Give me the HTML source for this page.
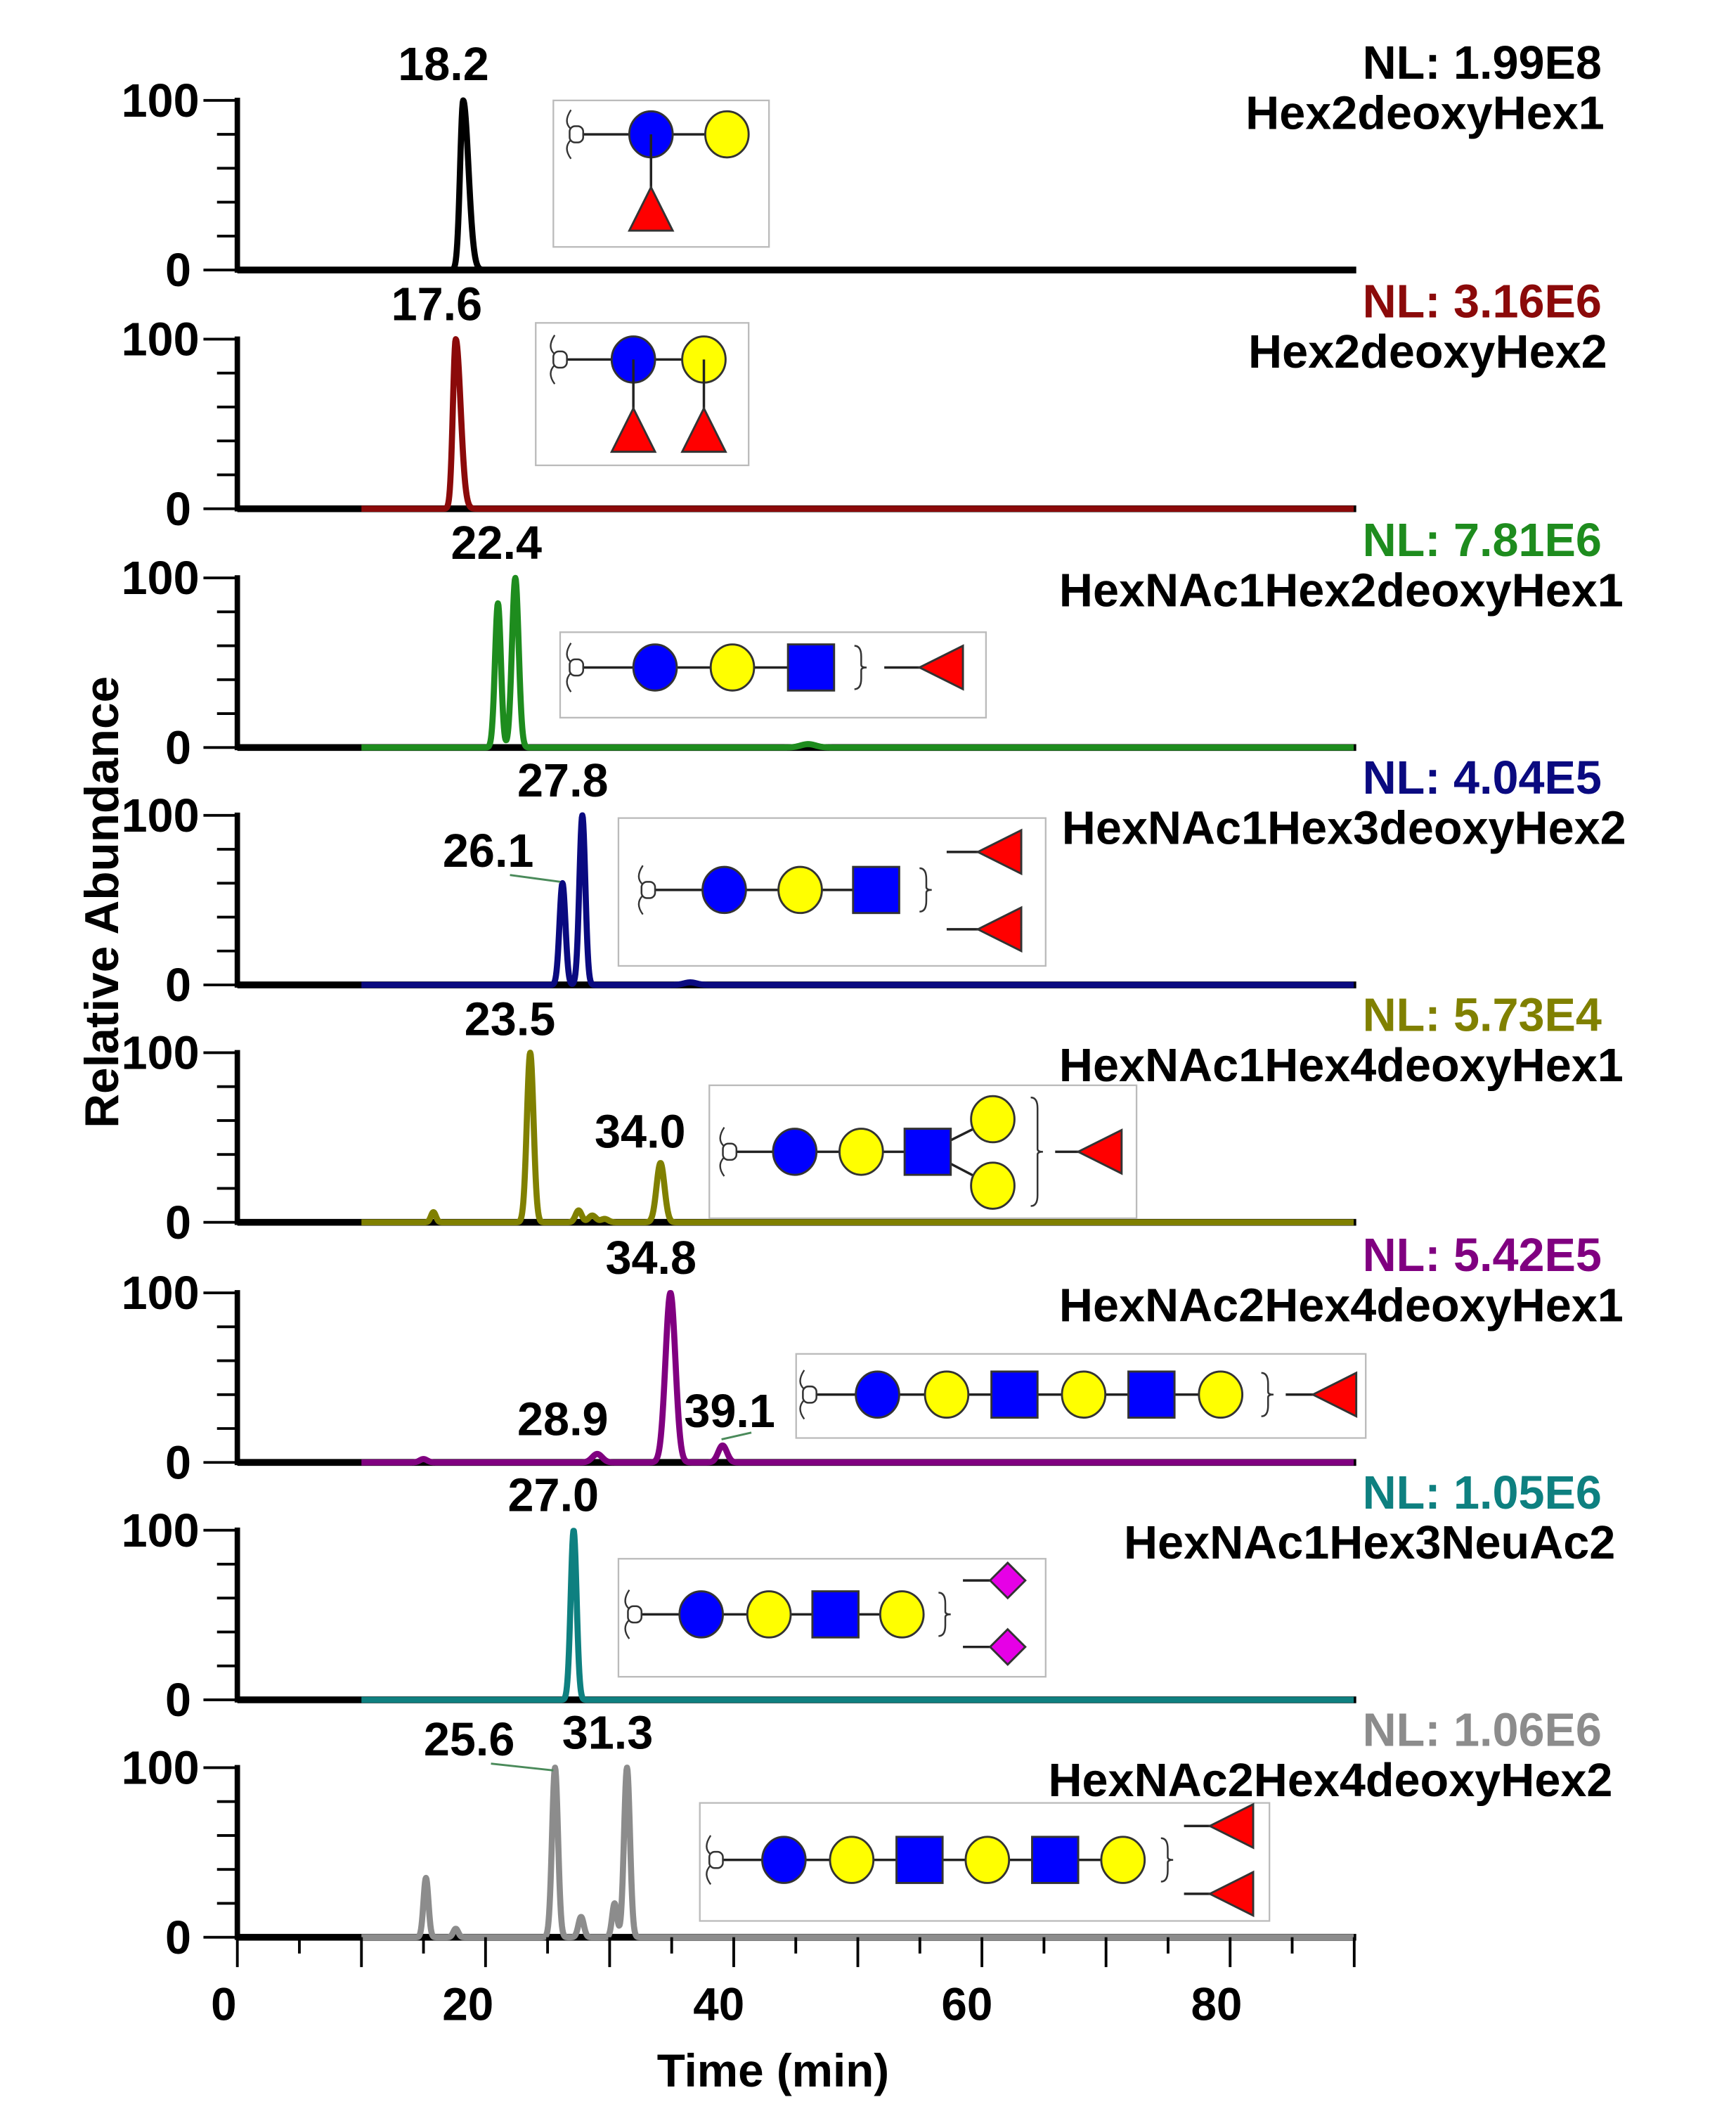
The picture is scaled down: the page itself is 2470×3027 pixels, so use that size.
<!DOCTYPE html>
<html><head><meta charset="utf-8"><style>
html,body{margin:0;padding:0;background:#fff;}
svg{display:block;}
text{font-family:"Liberation Sans",Arial,sans-serif;font-weight:bold;}
</style></head><body>
<svg id="s" width="2470" height="3027" viewBox="0 0 1280 1568.6" xmlns="http://www.w3.org/2000/svg">
<rect width="1280" height="1569" fill="#fff"/>
<g id="g"></g>
<text x="87" y="665" font-size="35" text-anchor="middle" transform="rotate(-90 87 665)">Relative Abundance</text>
<text x="165" y="1489" font-size="34" text-anchor="middle">0</text>
<text x="345" y="1489" font-size="34" text-anchor="middle">20</text>
<text x="530" y="1489" font-size="34" text-anchor="middle">40</text>
<text x="713" y="1489" font-size="34" text-anchor="middle">60</text>
<text x="897" y="1489" font-size="34" text-anchor="middle">80</text>
<text x="570" y="1538" font-size="34" text-anchor="middle">Time (min)</text>
</svg>
<script>
var G=document.getElementById('g'),h='';
var X0=175,PX=9.15,FS=34.5;
function X(t){return X0+PX*t;}
var P=[
{b:199,c:'#000',nl:'NL: 1.99E8',nm:'Hex2deoxyHex1',nr:1183,pk:[[18.2,100,0.25,1]],lab:[['18.2',327,59]],allblack:1},
{b:375,c:'#8b0a0a',nl:'NL: 3.16E6',nm:'Hex2deoxyHex2',nr:1185,pk:[[17.6,100,0.23,1]],lab:[['17.6',322,236]]},
{b:551,c:'#1e8c1e',nl:'NL: 7.81E6',nm:'HexNAc1Hex2deoxyHex1',nr:1197,pk:[[21.0,85,0.24],[22.4,100,0.27],[46,2,0.6]],lab:[['22.4',366,412]]},
{b:726,c:'#0a0a80',nl:'NL: 4.04E5',nm:'HexNAc1Hex3deoxyHex2',nr:1199,pk:[[26.2,60,0.24],[27.8,100,0.24],[36.5,1.5,0.5]],lab:[['27.8',415,587],['26.1',360,639]],ld:[[376,645,413,650]]},
{b:901,c:'#808000',nl:'NL: 5.73E4',nm:'HexNAc1Hex4deoxyHex1',nr:1197,pk:[[15.8,6,0.2],[23.6,100,0.27],[27.5,7,0.25],[28.6,4,0.3],[29.6,2,0.3],[34.1,35,0.32]],lab:[['23.5',376,763],['34.0',472,846]]},
{b:1078,c:'#800080',nl:'NL: 5.42E5',nm:'HexNAc2Hex4deoxyHex1',nr:1197,pk:[[15,2,0.3],[29.0,5,0.4],[34.9,100,0.4],[39.1,10,0.35]],lab:[['34.8',480,939],['28.9',415,1058],['39.1',538,1052]],ld:[[532,1061,554,1056]]},
{b:1253,c:'#0e8080',nl:'NL: 1.05E6',nm:'HexNAc1Hex3NeuAc2',nr:1191,pk:[[27.1,100,0.24]],lab:[['27.0',408,1114]]},
{b:1428,c:'#8c8c8c',nl:'NL: 1.06E6',nm:'HexNAc2Hex4deoxyHex2',nr:1189,pk:[[15.2,35,0.2],[17.6,5,0.2],[25.6,100,0.24],[27.7,12,0.22],[30.4,20,0.2],[31.4,100,0.24]],lab:[['25.6',346,1294],['31.3',448,1289]],ld:[[362,1300,408,1305]]}
];
P.forEach(function(p){
 var b=p.b,t=b-125,H=125;
 h+='<line x1="'+X0+'" y1="'+(t-2)+'" x2="'+X0+'" y2="'+(b+2)+'" stroke="#000" stroke-width="4"/>';
 for(var i=0;i<=5;i++){var y=b-i*25;var l=i==0||i==5?150:160;h+='<line x1="'+l+'" y1="'+y+'" x2="'+X0+'" y2="'+y+'" stroke="#000" stroke-width="2"/>';}
 h+='<text x="147" y="'+(t+12)+'" font-size="'+FS+'" text-anchor="end">100</text>';
 h+='<text x="141" y="'+(b+12)+'" font-size="'+FS+'" text-anchor="end">0</text>';
 h+='<line x1="'+X0+'" y1="'+b+'" x2="1000" y2="'+b+'" stroke="#000" stroke-width="5"/>';
 var d='',st=p.allblack?0:10;
 for(var tt=st;tt<=90;tt+=0.04){
  var v=0;p.pk.forEach(function(k){var s=k[2];if(k[3]&&tt>k[0])s=k[2]*1.7;v+=k[1]*Math.exp(-Math.pow((tt-k[0])/s,2)/2);});
  var y=b-v*H/100;d+=(d?'L':'M')+X(tt).toFixed(2)+' '+y.toFixed(2);
 }
 h+='<path d="'+d+'" fill="none" stroke="'+p.c+'" stroke-width="4.5" stroke-linejoin="round"/>';
 (p.ld||[]).forEach(function(l){h+='<line x1="'+l[0]+'" y1="'+l[1]+'" x2="'+l[2]+'" y2="'+l[3]+'" stroke="#4a8a5a" stroke-width="1.5"/>';});
 p.lab.forEach(function(l){h+='<text x="'+l[1]+'" y="'+l[2]+'" font-size="'+FS+'" text-anchor="middle">'+l[0]+'</text>';});
 h+='<text x="1181" y="'+(b-141)+'" font-size="'+FS+'" text-anchor="end" fill="'+p.c+'">'+p.nl+'</text>';
 h+='<text x="'+p.nr+'" y="'+(b-104)+'" font-size="'+FS+'" text-anchor="end">'+p.nm+'</text>';
});
for(var m=0;m<=90;m+=5){var x=X(m);var L=m%10==0?22:12;h+='<line x1="'+x+'" y1="1428" x2="'+x+'" y2="'+(1428+L)+'" stroke="#000" stroke-width="2"/>';}
function box(x1,y1,x2,y2){h+='<rect x="'+x1+'" y="'+y1+'" width="'+(x2-x1)+'" height="'+(y2-y1)+'" fill="#fff" stroke="#bbb" stroke-width="1.2"/>';}
function ln(a,b,c,d){h+='<line x1="'+a+'" y1="'+b+'" x2="'+c+'" y2="'+d+'" stroke="#222" stroke-width="1.8"/>';}
function red(x,y){h+='<path d="M'+(x-4)+' '+(y-18)+' q-6 9 0 14 M'+(x-4)+' '+(y+4)+' q-6 6 0 14" fill="none" stroke="#333" stroke-width="1.2"/><rect x="'+(x-5)+'" y="'+(y-6)+'" width="10" height="12" rx="4" fill="#fff" stroke="#333" stroke-width="1.3"/>';}
function cir(x,y,c){h+='<ellipse cx="'+x+'" cy="'+y+'" rx="16" ry="17" fill="'+c+'" stroke="#333" stroke-width="1.5"/>';}
function sq(x,y){h+='<rect x="'+(x-17)+'" y="'+(y-17)+'" width="34" height="34" fill="#0000ff" stroke="#333" stroke-width="1.5"/>';}
function triU(x,y){h+='<polygon points="'+x+','+(y-17)+' '+(x-16)+','+(y+15)+' '+(x+16)+','+(y+15)+'" fill="#ff0000" stroke="#333" stroke-width="1.5"/>';}
function triL(x,y){h+='<polygon points="'+(x-16)+','+y+' '+(x+16)+','+(y-16)+' '+(x+16)+','+(y+16)+'" fill="#ff0000" stroke="#333" stroke-width="1.5"/>';}
function dia(x,y){h+='<polygon points="'+x+','+(y-13)+' '+(x+13)+','+y+' '+x+','+(y+13)+' '+(x-13)+','+y+'" fill="#e600e6" stroke="#333" stroke-width="1.5"/>';}
function brace(x,y,hh){h+='<path d="M'+x+' '+(y-hh)+' q5 0 5 8 v'+(hh-10)+' q0 2 4 2 q-4 0 -4 2 v'+(hh-10)+' q0 8 -5 8" fill="none" stroke="#333" stroke-width="1.3"/>';}
function chain(xs,y,types){ln(xs[0],y,xs[xs.length-1],y);red(xs[0],y);for(var i=1;i<xs.length;i++){var t=types[i-1];if(t=='b')cir(xs[i],y,'#0000ff');else if(t=='y')cir(xs[i],y,'#ffff00');else sq(xs[i],y);}}
box(408,74,567,182);chain([425,480,536],99,'by');ln(480,99,480,145);triU(480,155);
box(395,238,552,343);chain([413,467,519],265,'by');ln(467,265,467,310);ln(519,265,519,310);triU(467,318);triU(519,318);
box(413,466,727,529);chain([425,483,540,598],492,'bys');brace(630,492,16);ln(652,492,680,492);triL(694,492);
box(456,603,771,712);chain([478,534,590,646],656,'bys');brace(678,656,16);ln(698,628,725,628);triL(737,628);ln(698,685,725,685);triL(737,685);
box(523,800,838,898);ln(684,849,732,825);ln(684,849,732,874);chain([538,586,635,684],849,'bys');cir(732,825,'#ffff00');cir(732,874,'#ffff00');brace(760,849,40);ln(778,849,800,849);triL(811,849);
box(587,998,1007,1060);chain([597,647,698,748,799,849,900],1028,'bysysy');brace(930,1028,16);ln(948,1028,975,1028);triL(984,1028);
box(456,1149,771,1236);chain([468,517,567,616,665],1190,'bysy');brace(692,1190,16);ln(710,1165,730,1165);dia(743,1165);ln(710,1214,730,1214);dia(743,1214);
box(516,1329,936,1416);chain([528,578,628,678,728,778,828],1371,'bysysy');brace(856,1371,16);ln(873,1346,895,1346);triL(908,1346);ln(873,1396,895,1396);triL(908,1396);
G.innerHTML=h;
</script>
</body></html>
